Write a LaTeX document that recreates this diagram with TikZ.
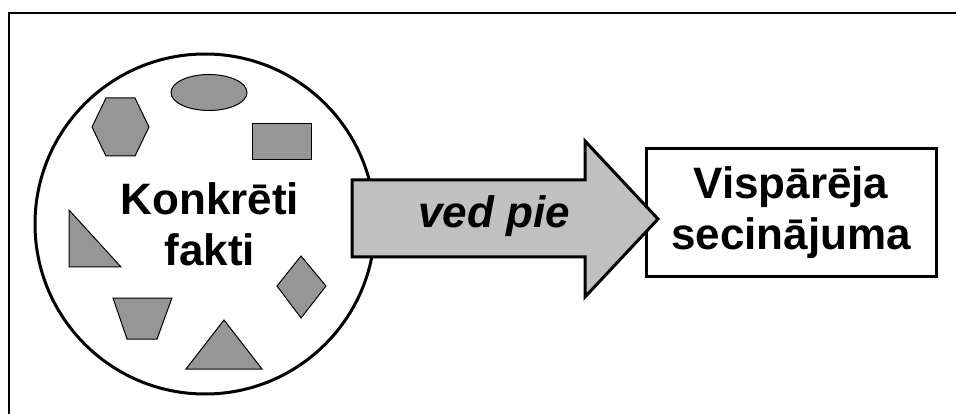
\documentclass[tikz,border=0pt]{standalone}
\usepackage{fontspec}
\setmainfont{Liberation Sans}
\begin{document}
\begin{tikzpicture}[x=1pt,y=-1pt,
  small/.style={draw=black,line width=1pt,fill=shapegray,line join=miter},
  bigtext/.style={font=\fontsize{44}{51}\selectfont\bfseries,align=center,inner sep=0pt}]
\definecolor{shapegray}{HTML}{969696}
\definecolor{arrowgray}{HTML}{C0C0C0}
\useasboundingbox (0,0) rectangle (956,414);
% frame (top and left edges only)
\draw[line width=1.5pt] (9,414) -- (9,13) -- (956,13);
% circle of concrete facts
\node[circle,draw,line width=3pt,fill=white,minimum size=340pt,inner sep=0pt] (facts) at (205,224) {};
% small shapes
\draw[small] (209,92.5) ellipse [x radius=38,y radius=18];
\draw[small] (106,98) -- (135,98) -- (149,127) -- (135,156) -- (106,156) -- (92,127) -- cycle;
\draw[small] (252,124) rectangle (311,160);
\draw[small] (69,210) -- (69,267) -- (121,267) -- cycle;
\draw[small] (113,298) -- (172,298) -- (157,339) -- (127,339) -- cycle;
\draw[small] (186,369) -- (262,369) -- (224,320) -- cycle;
\draw[small] (301,256) -- (326,286) -- (301,318) -- (277,286) -- cycle;
\node[bigtext] (factstext) at (210,224) {Konkrēti\\fakti};
% conclusion box
\node[draw,line width=3pt,fill=white,minimum width=290pt,minimum height=127pt,bigtext] (concl) at (791,212.5) {Vispārēja\\secinājuma};
% arrow
\draw[line width=3pt,fill=arrowgray,line join=miter] (352,180) -- (585,180) -- (585,141) -- (658,219) -- (585,297) -- (585,257) -- (352,257) -- cycle;
\node[font=\fontsize{44}{51}\selectfont\bfseries\itshape,inner sep=0pt,anchor=base] (ved) at (494,228) {ved pie};
\end{tikzpicture}
\end{document}
